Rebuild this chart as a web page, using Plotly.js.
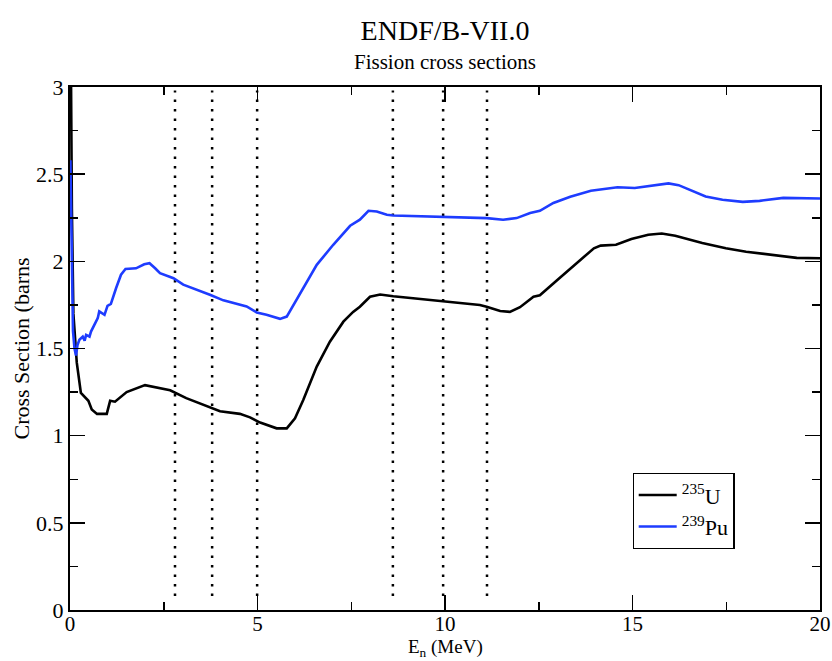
<!DOCTYPE html>
<html>
<head>
<meta charset="utf-8">
<script src="https://cdn.plot.ly/plotly-3.0.1.min.js"></script>
<style>html,body{margin:0;padding:0;background:#fff;}#chart{width:832px;height:661px;}</style>
</head>
<body>
<div id="chart"></div>
<script>
// U-235 fission cross section (MeV, barns)
const u235E = [0.01, 0.05, 0.09, 0.18, 0.29, 0.4, 0.49, 0.58, 0.72, 0.98, 1.07, 1.2, 1.51, 2.0, 2.67, 3.1, 3.78, 4.0, 4.53, 4.8, 5.07, 5.24, 5.51, 5.78, 6.0, 6.22, 6.58, 6.93, 7.29, 7.55, 7.73, 8.0, 8.27, 8.62, 9.96, 10.93, 11.11, 11.47, 11.73, 12.0, 12.36, 12.53, 12.98, 13.43, 13.97, 14.15, 14.56, 14.97, 15.42, 15.78, 16.14, 16.86, 17.49, 18.03, 18.84, 19.38, 20.0];
const u235S = [3.6, 2.3, 1.70, 1.42, 1.245, 1.22, 1.20, 1.15, 1.125, 1.125, 1.20, 1.195, 1.25, 1.29, 1.26, 1.215, 1.16, 1.14, 1.125, 1.105, 1.075, 1.061, 1.042, 1.042, 1.10, 1.205, 1.396, 1.539, 1.654, 1.71, 1.74, 1.797, 1.81, 1.80, 1.769, 1.75, 1.74, 1.715, 1.71, 1.737, 1.797, 1.805, 1.89, 1.975, 2.075, 2.09, 2.095, 2.128, 2.152, 2.16, 2.147, 2.105, 2.075, 2.055, 2.033, 2.02, 2.018];

// Pu-239 fission cross section (MeV, barns)
const pu239E = [0.01, 0.05, 0.08, 0.12, 0.16, 0.2, 0.25, 0.34, 0.39, 0.43, 0.52, 0.56, 0.65, 0.74, 0.78, 0.87, 0.92, 1.0, 1.09, 1.23, 1.36, 1.48, 1.76, 1.98, 2.12, 2.27, 2.4, 2.76, 3.02, 3.73, 4.09, 4.71, 4.98, 5.24, 5.6, 5.78, 6.04, 6.4, 6.58, 7.02, 7.47, 7.73, 7.96, 8.18, 8.45, 8.62, 9.96, 11.11, 11.55, 11.91, 12.27, 12.53, 12.89, 13.34, 13.89, 14.6, 15.06, 15.5, 15.96, 16.23, 16.5, 16.95, 17.4, 17.94, 18.39, 19.02, 20.0];
const pu239S = [2.58, 1.92, 1.60, 1.50, 1.46, 1.52, 1.55, 1.568, 1.545, 1.578, 1.568, 1.597, 1.636, 1.674, 1.713, 1.703, 1.693, 1.745, 1.756, 1.847, 1.923, 1.956, 1.96, 1.983, 1.989, 1.96, 1.932, 1.903, 1.866, 1.808, 1.776, 1.741, 1.707, 1.693, 1.67, 1.683, 1.78, 1.913, 1.98, 2.095, 2.204, 2.239, 2.29, 2.286, 2.267, 2.263, 2.254, 2.248, 2.239, 2.248, 2.277, 2.29, 2.335, 2.37, 2.405, 2.425, 2.421, 2.434, 2.447, 2.437, 2.414, 2.372, 2.353, 2.341, 2.347, 2.364, 2.36];

// Dotted vertical marker positions (MeV) and their extent (barns)
const markerE = [2.8, 3.79, 4.99, 8.61, 9.95, 11.12];
const markerRange = [0.08, 2.98];

const seriesNames = ['<sup>235</sup>U', '<sup>239</sup>Pu'];
const xTicks = [0, 5, 10, 15, 20];
const yTicks = [0, 0.5, 1, 1.5, 2, 2.5, 3];
const yTickText = ['0', '0.5', '1', '1.5', '2', '2.5', '3'];
const xTitle = 'E<sub>n</sub> (MeV)';

const FONT = 'Liberation Serif, Times New Roman, serif';
const traces = [];
markerE.forEach(e => {
  traces.push({
    x: [e, e], y: markerRange, mode: 'lines', showlegend: false, hoverinfo: 'skip',
    line: {color: '#000', width: 2.5, dash: '2.5px,7px'}
  });
});
traces.push({x: u235E, y: u235S, mode: 'lines', name: seriesNames[0], line: {color: '#000000', width: 2.6}});
traces.push({x: pu239E, y: pu239S, mode: 'lines', name: seriesNames[1], line: {color: '#1e3cff', width: 2.6}});

const layout = {
  width: 832, height: 661,
  margin: {l: 70, r: 12, t: 87, b: 51},
  paper_bgcolor: '#fff', plot_bgcolor: '#fff',
  font: {family: FONT, color: '#000', size: 20},
  title: {text: 'ENDF/B-VII.0', font: {family: FONT, size: 28, color: '#000'}, x: 0.5, xref: 'paper', xanchor: 'center', y: 1 - 30/661, yanchor: 'middle', yref: 'container'},
  annotations: [
    {text: 'Fission cross sections', xref: 'paper', yref: 'paper', x: 0.5, y: 1 + 25/523, xanchor: 'center', yanchor: 'middle', showarrow: false, font: {family: FONT, size: 21, color: '#000'}},
    {text: xTitle, xref: 'paper', yref: 'paper', x: 0.5, y: -(648 - 610)/523, xanchor: 'center', yanchor: 'middle', showarrow: false, font: {family: FONT, size: 19, color: '#000'}}
  ],
  xaxis: {
    range: [0, 20], tickvals: xTicks, ticktext: xTicks.map(String),
    ticks: 'inside', ticklen: 15, tickwidth: 1.5, tickcolor: '#000',
    minor: {dtick: 2.5, tick0: 0, ticks: 'inside', ticklen: 8, tickwidth: 1.5, tickcolor: '#000'},
    showline: true, linecolor: '#000', linewidth: 2, mirror: 'allticks',
    showgrid: false, zeroline: false, ticklabelstandoff: -6,
    tickfont: {family: FONT, size: 21, color: '#000'}
  },
  yaxis: {
    range: [0, 3], tickvals: yTicks, ticktext: yTickText,
    ticks: 'inside', ticklen: 15, tickwidth: 1.5, tickcolor: '#000',
    minor: {dtick: 0.25, tick0: 0, ticks: 'inside', ticklen: 8, tickwidth: 1.5, tickcolor: '#000'},
    showline: true, linecolor: '#000', linewidth: 2, mirror: 'allticks',
    showgrid: false, zeroline: false,
    tickfont: {family: FONT, size: 22, color: '#000'},
    title: {text: 'Cross Section (barns', font: {family: FONT, size: 22, color: '#000'}, standoff: 0}
  },
  legend: {
    x: 0.75, y: 0.262, xanchor: 'left', yanchor: 'top',
    bgcolor: '#fff', bordercolor: '#000', borderwidth: 1.2,
    font: {family: FONT, size: 22, color: '#000'},
    itemwidth: 38, tracegroupgap: 0
  },
  showlegend: true
};
Plotly.newPlot('chart', traces, layout, {displayModeBar: false, staticPlot: true});
</script>
</body>
</html>
